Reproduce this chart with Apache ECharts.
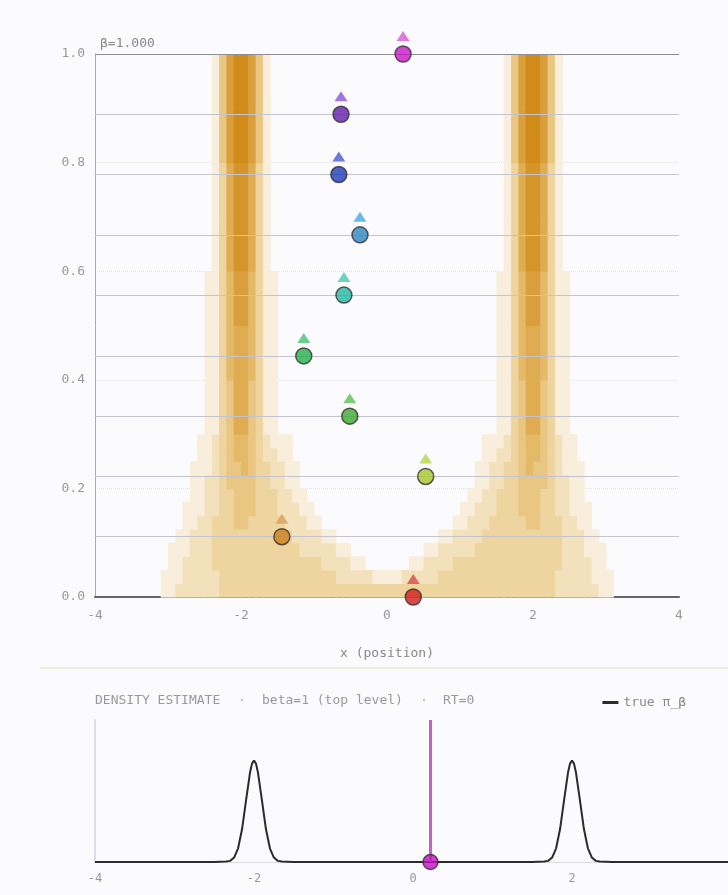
<!DOCTYPE html>
<html>
<head>
<meta charset="utf-8">
<script src="https://cdn.jsdelivr.net/npm/echarts@6/dist/echarts.min.js"></script>
<style>
  html, body { margin: 0; padding: 0; background: #fbfbfd; }
  #chart { width: 728px; height: 895px; }
</style>
</head>
<body>
<div id="chart"></div>
<script>
// 温度层 beta 和每层粒子位置
const betaLevels = [0, 0.111, 0.222, 0.333, 0.444, 0.556, 0.667, 0.778, 0.889, 1.0]
const particleX = [0.36, -1.44, 0.53, -0.51, -1.14, -0.59, -0.37, -0.66, -0.63, 0.22]
const particleColors = ['#d21c1c', '#c9801f', '#a6c62c', '#3caa2c', '#22b04a', '#22b8a0', '#2a86c0', '#1c3cb6', '#621eae', '#c818c8']
const markerColors = ['#d84848', '#d8a264', '#b8d64a', '#60c052', '#48c272', '#4cc8b0', '#4aa8d8', '#4a5ad0', '#8c52d8', '#d85ad8']

// 密度热图: 每行 80 格 (x 从 -4 到 4, 每格 0.1), 数字 0-9 为深浅
const heatXMin = -4
const heatCellW = 0.1
const densityRowEdges = [0, 0.025, 0.05, 0.075, 0.1, 0.125, 0.15, 0.175, 0.2, 0.225, 0.25, 0.275, 0.3, 0.4, 0.5, 0.6, 0.7, 0.8, 0.9, 1.0]
const densityRows = [
  '0000000001 1222222333 3333333333 3333333333 3333333333 3333333333 3332222221 1000000000',
  '0000000001 1122222333 3333333333 3332222211 1122222333 3333333333 3332222211 1000000000',
  '0000000000 1122223333 3333333333 3222211000 0001122223 3333333333 3333222211 0000000000',
  '0000000000 1112223333 3333333322 2221100000 0000011222 2233333333 3333222111 0000000000',
  '0000000000 0112223333 3333333222 2110000000 0000000112 2223333333 3333222110 0000000000',
  '0000000000 0011223334 4333332221 1000000000 0000000001 1222333334 4333221100 0000000000',
  '0000000000 0011122334 4433322211 0000000000 0000000000 1122233344 4332211100 0000000000',
  '0000000000 0001122334 4433322110 0000000000 0000000000 0112233344 4332211000 0000000000',
  '0000000000 0001122344 4433221100 0000000000 0000000000 0011223344 4432211000 0000000000',
  '0000000000 0001112344 5433221100 0000000000 0000000000 0011223345 4432111000 0000000000',
  '0000000000 0000112345 5432211000 0000000000 0000000000 0001122345 5432110000 0000000000',
  '0000000000 0000112345 5432111000 0000000000 0000000000 0001112345 5432110000 0000000000',
  '0000000000 0000011346 6431100000 0000000000 0000000000 0000011346 6431100000 0000000000',
  '0000000000 0000011356 6531100000 0000000000 0000000000 0000011356 6531100000 0000000000',
  '0000000000 0000011357 7531100000 0000000000 0000000000 0000011357 7531100000 0000000000',
  '0000000000 0000001368 8631000000 0000000000 0000000000 0000001368 8631000000 0000000000',
  '0000000000 0000001368 8631000000 0000000000 0000000000 0000001368 8631000000 0000000000',
  '0000000000 0000001479 9741000000 0000000000 0000000000 0000001479 9741000000 0000000000',
  '0000000000 0000001479 9741000000 0000000000 0000000000 0000001479 9741000000 0000000000'
]
const heatColors = ['rgba(0,0,0,0)', '#f8eedb', '#f3e1bb', '#eed49e', '#e9c682', '#e4b968', '#dfac51', '#da9f3c', '#d5952a', '#d08b18']

// 下方 true π_β 曲线
const trueX = [-4, -2.5, -2.35, -2.3, -2.25, -2.2, -2.15, -2.1, -2.05, -2.025, -2, -1.975, -1.95, -1.9, -1.85, -1.8, -1.75, -1.7, -1.65, -1.5,
  1.5, 1.65, 1.7, 1.75, 1.8, 1.85, 1.9, 1.95, 1.975, 2, 2.025, 2.05, 2.1, 2.15, 2.2, 2.25, 2.3, 2.35, 2.5, 4]
const trueY = [0, 0, 0.004, 0.011, 0.044, 0.135, 0.325, 0.607, 0.882, 0.97, 1, 0.97, 0.882, 0.607, 0.325, 0.135, 0.044, 0.011, 0.004, 0,
  0, 0.004, 0.011, 0.044, 0.135, 0.325, 0.607, 0.882, 0.97, 1, 0.97, 0.882, 0.607, 0.325, 0.135, 0.044, 0.011, 0.004, 0, 0]
const topParticleX = 0.22

const mono = 'DejaVu Sans Mono'
const font13 = '13px "DejaVu Sans Mono"'

const heatData = []
densityRows.forEach((row, r) => {
  const cells = row.replace(/ /g, '')
  for (let i = 0; i < cells.length; i++) {
    const v = +cells[i]
    if (v > 0) {
      heatData.push([heatXMin + i * heatCellW, heatXMin + (i + 1) * heatCellW, densityRowEdges[r], densityRowEdges[r + 1], v])
    }
  }
})

const chart = echarts.init(document.getElementById('chart'))
chart.setOption({
  backgroundColor: '#fbfbfd',
  animation: false,
  textStyle: { fontFamily: mono },
  legend: {
    data: ['true π_β'],
    right: 37,
    top: 691,
    icon: 'rect',
    itemWidth: 16,
    itemHeight: 3,
    itemGap: 4,
    textStyle: { color: '#888', fontSize: 13, fontFamily: mono }
  },
  grid: [
    { left: 95, right: 49, top: 54, height: 543, outerBoundsMode: 'none', containLabel: false },
    { left: 95, width: 636, top: 720, height: 142, outerBoundsMode: 'none', containLabel: false }
  ],
  xAxis: [
    {
      gridIndex: 0, type: 'value', min: -4, max: 4, interval: 2,
      name: 'x (position)', nameLocation: 'middle', nameGap: 50,
      nameTextStyle: { color: '#888', fontSize: 13, fontFamily: mono },
      axisLine: { lineStyle: { color: '#666', width: 2 } },
      axisTick: { show: false },
      axisLabel: { color: '#999', fontSize: 13, margin: 12 },
      splitLine: { show: false }
    },
    {
      gridIndex: 1, type: 'value', min: -4, max: 4, interval: 2,
      axisLine: { lineStyle: { color: '#ddd', width: 1 } },
      axisTick: { show: false },
      axisLabel: { color: '#999', fontSize: 12, margin: 11 },
      splitLine: { show: false }
    }
  ],
  yAxis: [
    {
      gridIndex: 0, type: 'value', min: 0, max: 1, interval: 0.2,
      axisLine: { show: true, onZero: false, lineStyle: { color: '#aaa', width: 1 } },
      axisTick: { show: false },
      axisLabel: { color: '#999', fontSize: 13, margin: 10, formatter: v => v.toFixed(1) },
      splitLine: { show: true, lineStyle: { color: '#e2e2ea', type: 'dotted' } }
    },
    {
      gridIndex: 1, type: 'value', min: 0, max: 1.4,
      axisLine: { show: true, onZero: false, lineStyle: { color: '#dcdcea', width: 2 } },
      axisTick: { show: false },
      axisLabel: { show: false },
      splitLine: { show: false }
    }
  ],
  graphic: [
    { type: 'text', left: 100, top: 37, style: { text: 'β=1.000', fill: '#888', font: font13 } },
    { type: 'line', shape: { x1: 40, y1: 668, x2: 728, y2: 668 }, style: { stroke: '#eeeedc', lineWidth: 2 } },
    { type: 'text', left: 95, top: 694, style: { text: 'DENSITY ESTIMATE', fill: '#999', font: font13 } },
    { type: 'text', left: 238, top: 694, style: { text: '·', fill: '#aaa', font: font13 } },
    { type: 'text', left: 262, top: 694, style: { text: 'beta=1 (top level)', fill: '#999', font: font13 } },
    { type: 'text', left: 420, top: 694, style: { text: '·', fill: '#aaa', font: font13 } },
    { type: 'text', left: 443, top: 694, style: { text: 'RT=0', fill: '#999', font: font13 } }
  ],
  series: [
    {
      name: 'density',
      type: 'custom',
      xAxisIndex: 0, yAxisIndex: 0,
      silent: true,
      z: 1,
      data: heatData,
      encode: { x: [0, 1], y: [2, 3] },
      renderItem: (params, api) => {
        const a = api.coord([api.value(0), api.value(3)])
        const b = api.coord([api.value(1), api.value(2)])
        return {
          type: 'rect',
          shape: { x: a[0], y: a[1], width: b[0] - a[0] + 0.6, height: b[1] - a[1] + 0.6 },
          style: { fill: heatColors[api.value(4)] }
        }
      }
    },
    {
      name: 'levels',
      type: 'lines',
      coordinateSystem: 'cartesian2d',
      xAxisIndex: 0, yAxisIndex: 0,
      silent: true,
      z: 2,
      data: betaLevels.map((b, i) => ({
        coords: [[-4, b], [4, b]],
        lineStyle: i === betaLevels.length - 1
          ? { color: '#8e8e96', width: 2, opacity: 1 }
          : { color: '#c4c4ce', width: 1, opacity: 1 }
      }))
    },
    {
      name: 'proposal',
      type: 'scatter',
      xAxisIndex: 0, yAxisIndex: 0,
      symbol: 'triangle',
      symbolSize: [13, 10],
      symbolOffset: [0, -18],
      z: 4,
      data: betaLevels.map((b, i) => ({ value: [particleX[i], b], itemStyle: { color: markerColors[i] } }))
    },
    {
      name: 'particles',
      type: 'scatter',
      xAxisIndex: 0, yAxisIndex: 0,
      symbolSize: 16,
      z: 5,
      data: betaLevels.map((b, i) => ({
        value: [particleX[i], b],
        itemStyle: { color: particleColors[i], borderColor: '#3a2e30', borderWidth: 1.5 }
      }))
    },
    {
      name: 'true π_β',
      type: 'line',
      xAxisIndex: 1, yAxisIndex: 1,
      showSymbol: false,
      symbol: 'none',
      color: '#2b2b2b',
      lineStyle: { color: '#2b2b2b', width: 2 },
      data: trueX.map((x, i) => [x, trueY[i]]),
      markLine: {
        silent: true,
        symbol: 'none',
        label: { show: false },
        lineStyle: { color: '#c65ece', width: 3, type: 'solid' },
        data: [{ xAxis: topParticleX }]
      }
    },
    {
      name: 'current',
      type: 'scatter',
      xAxisIndex: 1, yAxisIndex: 1,
      symbolSize: 15,
      z: 6,
      itemStyle: { color: '#c412c4', borderColor: '#3a2e30', borderWidth: 1.5 },
      data: [[topParticleX, 0]]
    }
  ]
})
</script>
</body>
</html>
